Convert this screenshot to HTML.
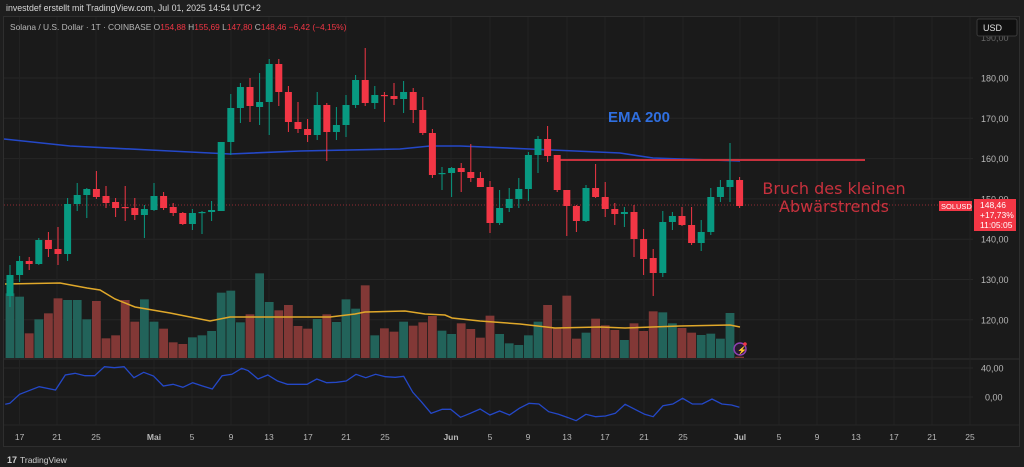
<!DOCTYPE html>
<html><head><meta charset="utf-8"><style>
html,body{margin:0;padding:0;background:#1e1e1e;width:1024px;height:467px;overflow:hidden;font-family:"Liberation Sans",sans-serif}
</style></head><body>
<svg id="s" width="1024" height="467" xmlns="http://www.w3.org/2000/svg" style="position:absolute;left:0;top:0">
<rect x="0" y="0" width="1024" height="467" fill="#1e1e1e"/>
<rect x="3.5" y="16.5" width="1016" height="430" fill="#1a1a1a" stroke="#2e2e2e"/>
<text x="6" y="11" fill="#d8d8d8" font-size="8.8">investdef erstellt mit TradingView.com, Jul 01, 2025 14:54 UTC+2</text>
<g id="grid"></g>
<g id="vol"></g>
<g id="lines"></g>
<g id="cand"></g>
<text x="10" y="30" font-size="8.4" fill="#b8b8b8">Solana / U.S. Dollar · 1T · COINBASE  <tspan fill="#b8b8b8">O</tspan><tspan fill="#f23645">154,88</tspan>  <tspan>H</tspan><tspan fill="#f23645">155,69</tspan>  <tspan>L</tspan><tspan fill="#f23645">147,80</tspan>  <tspan>C</tspan><tspan fill="#f23645">148,46</tspan>  <tspan fill="#f23645">−6,42 (−4,15%)</tspan></text>
<text x="608" y="122" font-size="15" font-weight="bold" fill="#2f6fe0">EMA 200</text>
<text x="834" y="194" font-size="16" fill="#c8313d" text-anchor="middle" font-family="DejaVu Sans, sans-serif">Bruch des kleinen</text>
<text x="834" y="212" font-size="16" fill="#c8313d" text-anchor="middle" font-family="DejaVu Sans, sans-serif">Abwärstrends</text>
<rect x="977" y="19" width="40" height="17" rx="2" fill="#101010" stroke="#3a3a3a"/>
<text x="983" y="31" font-size="9" fill="#e0e0e0">USD</text>
<rect x="939" y="201" width="33" height="10" fill="#f23645"/>
<text x="941" y="209" font-size="7.5" fill="#fff">SOLUSD</text>
<rect x="974" y="199" width="42" height="32" fill="#f23645"/>
<text x="980" y="208" font-size="8.5" fill="#fff">148,46</text>
<text x="980" y="218" font-size="8.5" fill="#fff">+17,73%</text>
<text x="980" y="228" font-size="8.5" fill="#fff">11:05:05</text>
<circle cx="740" cy="349" r="6" fill="#2a1a30" stroke="#8e3fb0" stroke-width="1.5"/>
<text x="737" y="353" font-size="8" fill="#b060d0">⚡</text>
<circle cx="745" cy="344" r="1.8" fill="#f23645"/>
<text x="7" y="463" font-size="9" fill="#cfcfcf" font-weight="bold">17</text>
<text x="20" y="463" font-size="8.5" fill="#cfcfcf">TradingView</text>
</svg>
<script>
const NS="http://www.w3.org/2000/svg";
function el(p,t,a){const e=document.createElementNS(NS,t);for(const k in a)e.setAttribute(k,a[k]);document.getElementById(p).appendChild(e);return e;}
const prices=[190,180,170,160,150,140,130,120];
prices.forEach(p=>{const y=78+(180-p)*4.03;
 if(p<190) el("grid","line",{x1:4,x2:973,y1:y,y2:y,stroke:"#262626"});
 const t=el("grid","text",{x:981,y:y+3.5,"font-size":9,fill:p==190?"#666":"#b8b8b8"});t.textContent=p+",00";});
[[368,"40,00"],[397,"0,00"]].forEach(([y,s])=>{el("grid","line",{x1:4,x2:973,y1:y,y2:y,stroke:"#262626"});const t=el("grid","text",{x:s.length>4?981:985,y:y+3.5,"font-size":9,fill:"#b8b8b8"});t.textContent=s;});
el("grid","line",{x1:4,x2:1019,y1:359,y2:359,stroke:"#303030"});
el("grid","line",{x1:4,x2:1019,y1:425,y2:425,stroke:"#262626"});
const dates=[[19.6,"17"],[57,"21"],[96,"25"],[154,"Mai"],[192,"5"],[231,"9"],[269,"13"],[308,"17"],[346,"21"],[385,"25"],[451,"Jun"],[490,"5"],[528,"9"],[567,"13"],[605,"17"],[644,"21"],[683,"25"],[740,"Jul"],[779,"5"],[817,"9"],[856,"13"],[894,"17"],[932,"21"],[970,"25"]];
dates.forEach(([x,s])=>{el("grid","line",{x1:x,x2:x,y1:17,y2:425,stroke:"#232323"});
 const t=el("grid","text",{x:x,y:440,"font-size":8.5,fill:"#b8b8b8","text-anchor":"middle","font-weight":(isNaN(s)?"bold":"normal")});t.textContent=s;});
const C=[[296,275,265,307],[275,261,256,282],[261,264,257,270],[264,240,238,265],[240,249,232,257],[249,254,227,265],[254,204,198,261],[204,195,183,211],[195,189,188,218],[189,197,171,199],[196,203,186,208],[202,208,198,217],[207,207.8,186,221],[208,215,198,220],[215,209,205,238],[210,196,183,211],[196,208,192,210],[207,213,203,216],[213,224,212,225],[224,213,209,230],[213,212,211,234],[212,210,201,221],[211,142,142,211],[142,108,94,155],[108,87,83,123],[87,106,78,122],[107,102,73,125],[102,64,59,135],[64,92,59,106],[92,122,86,132],[122,129,102,133],[129,135,119,142],[135,105,92,140],[105,132,103,161],[132,125,107,140],[125,105,95,137],[105,80,75,108],[80,103,48,106],[103,95,86,109],[95,96,92,122],[96,99,83,105],[99,92,81,113],[92,110,88,123],[110,133,97,135],[133,175,129,178],[174,173,167,190],[173,168,167,197],[168,172,163,192],[172,178,144,182],[178,187,172,187],[187,223,181,233],[223,208,190,225],[208,199,188,212],[199,189,178,208],[189,155,152,201],[155,139,136,173],[139,156,126,162],[155,190,155,192],[190,206,190,236],[206,221,205,232],[221,188,185,222],[188,197,164,198],[197,209,182,217],[209,214,203,225],[214,212,207,227],[212,239,205,257],[239,259,229,275],[258,273,249,296],[273,222,211,277],[222,216,212,230],[216,225,207,226],[225,243,207,245],[243,232,220,251],[232,197,188,235],[197,187,180,202],[187,180,143,202],[180,206,177,208]];
const V={0:760,1:770,2:880,3:838,4:820,5:775,6:780,7:780,8:838,9:783,10:895,11:886,12:780,13:845,14:778,15:845,16:866,17:907,18:912,19:892,20:886,21:873,22:758,23:752,24:847,25:823,26:700,27:786,28:811,29:795,30:858,31:866,32:837,33:823,34:846,35:778,36:806,37:736,38:886,39:865,40:875,41:845,42:857};
const V4=[637,618,662,672,640,657,683,617,672,700,705,676,635,585,653,557,686,668,626,646,660,690,640,663,604,607,640,654,668,675,671,686,609,740];
C.forEach((c,i)=>{const x=10+9.6*i;const up=c[1]<c[0];
 let vt=i<43?40+V[i]/3:110+V4[i-43]/3;
 el("vol","rect",{x:x-4.4,y:vt,width:8.8,height:358-vt,fill:up?"#22635a":"#823836"});
 const col=up?"#089981":"#f23645";
 el("cand","line",{x1:x,x2:x,y1:c[2],y2:c[3],stroke:col,"stroke-width":1});
 const t=Math.min(c[0],c[1]),h=Math.max(1.2,Math.abs(c[0]-c[1]));
 el("cand","rect",{x:x-3.5,y:t,width:7,height:h,fill:col});
});
el("lines","line",{x1:4,x2:973,y1:205,y2:205,stroke:"#f23645","stroke-width":1,"stroke-dasharray":"1,2",opacity:0.55});
el("lines","polyline",{points:"4,139 70,146 150,150 210,153 230,154 300,151 400,149 430,146 460,146 530,149 620,153 653,158 740,161",fill:"none",stroke:"#2448c8","stroke-width":1.6});
el("lines","line",{x1:555,x2:865,y1:160,y2:160,stroke:"#c8313d","stroke-width":2});
el("lines","polyline",{points:"5,284 60,283 87,288 100,290 115,299 135,307 170,313 210,321 230,317 300,317 330,317 355,314 365,312 405,311 425,314 445,315 452,318 480,321 520,324 555,328 600,327 625,328 680,326 730,325 740,327",fill:"none",stroke:"#e0a82a","stroke-width":1.5});
const O=[[8,148],[15,145],[30,118],[60,95],[85,105],[100,60],[115,55],[130,62],[145,62],[160,35],[175,38],[190,35],[205,68],[220,52],[235,63],[250,93],[265,88],[280,97],[295,83],[310,93],[325,102],[340,62],[355,58],[370,40],[380,47],[395,72],[410,60],[425,78],[440,88],[470,88],[485,72],[500,83],[515,82],[530,78],[545,58],[560,68],[575,58],[590,65],[605,67],[618,64],[632,112],[645,140],[660,175],[677,163],[690,163],[705,187],[720,175],[735,162],[750,180],[765,168],[780,180],[795,160],[810,145],[825,147],[840,170],[855,178],[870,188],[882,197],[897,178],[912,185],[927,183],[942,175],[957,148],[972,163],[987,178],[1000,185],[1015,152],[1030,147],[1045,130],[1060,147],[1075,147],[1090,132],[1105,147],[1120,150],[1132,157]];
el("lines","polyline",{points:O.map(p=>(p[0]/1.531).toFixed(1)+","+(355+p[1]/3).toFixed(1)).join(" "),fill:"none",stroke:"#2448c8","stroke-width":1.3});
</script>
</body></html>
